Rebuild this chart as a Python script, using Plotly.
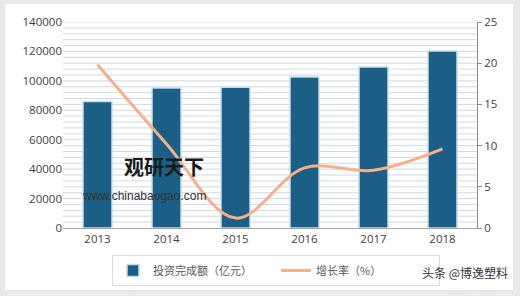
import plotly.graph_objects as go

years = ["2013", "2014", "2015", "2016", "2017", "2018"]
investment = [86000, 95200, 95600, 102600, 109400, 120300]
growth = [19.8, 10.2, 1.2, 7.3, 7.0, 9.6]
bar_name = "投资完成额（亿元）"
line_name = "增长率（%）"

L, R, T, B = 63, 43, 22, 68
W, H = 520, 296
pw, ph = W - L - R, H - T - B
def px(x): return (x - L) / pw
def py(y): return (H - B - y) / ph

fig = go.Figure()
fig.add_trace(go.Bar(x=years, y=investment, name=bar_name, width=0.42,
                     marker=dict(color="#1c5f86", line=dict(color="#c9dcea", width=1.5))))
fig.add_trace(go.Scatter(x=years, y=growth, name=line_name, yaxis="y2", mode="lines",
                         line=dict(color="#f5b08a", width=3, shape="spline", smoothing=1.0)))

font = dict(family="Open Sans, Liberation Sans, sans-serif", size=11.5, color="#404040")
fig.update_layout(
    width=W, height=H, margin=dict(l=L, r=R, t=T, b=B, autoexpand=False),
    paper_bgcolor="#e9e9e9", plot_bgcolor="#eef3f9",
    font=font, bargap=0.58,
    xaxis=dict(showgrid=False, showline=True, linecolor="#a6a6a6", linewidth=1,
               ticks="", tickfont=font),
    yaxis=dict(range=[0, 140000], dtick=20000, showgrid=False, zeroline=False,
               showline=False, tickfont=font, ticks="", tickformat="d"),
    yaxis2=dict(range=[0, 25], dtick=5, overlaying="y", side="right", showgrid=False,
                showline=True, linecolor="#8c8c8c", ticks="outside", ticklen=4,
                tickcolor="#8c8c8c", tickfont=font, zeroline=False),
    legend=dict(orientation="h", x=px(112), y=py(255), xanchor="left", yanchor="top",
                bgcolor="white", bordercolor="#dcdcdc", borderwidth=1,
                font=dict(family="Noto Sans CJK SC", size=11, color="#595959"),
                itemwidth=30, entrywidth=118),
)

shapes = [dict(type="rect", xref="paper", yref="paper", x0=px(5), x1=px(513),
               y0=py(290), y1=py(4), fillcolor="white", line=dict(width=0), layer="below")]
# striped grid lines
for v in range(4000, 140001, 4000):
    shapes.append(dict(type="line", xref="paper", yref="y", x0=0, x1=1, y0=v, y1=v,
                       line=dict(color="#cdd9e5", width=1), layer="below"))
fig.update_layout(shapes=shapes)

fig.add_annotation(text="<b>观研天下</b>", x=px(122), y=py(183), xref="paper", yref="paper",
                   showarrow=False, xanchor="left", font=dict(family="Noto Sans CJK SC", size=20, color="#1a1a1a"))
fig.add_annotation(text="www.chinabaogao.com", x=px(80), y=py(205), xref="paper", yref="paper",
                   showarrow=False, xanchor="left", font=dict(family="Liberation Sans", size=12, color="#333333"))
fig.add_annotation(text="头条 @博逸塑料", x=px(420), y=py(283), xref="paper", yref="paper",
                   showarrow=False, xanchor="left", font=dict(family="Noto Sans CJK SC", size=12, color="#333333"))

fig.write_html("out.html")
